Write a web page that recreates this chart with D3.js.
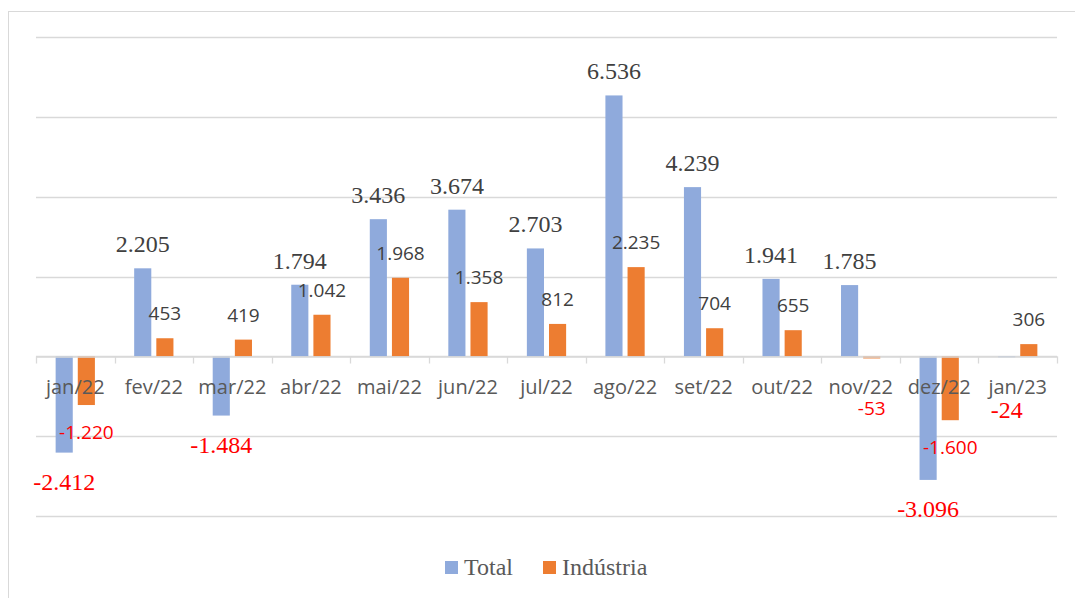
<!DOCTYPE html>
<html>
<head>
<meta charset="utf-8">
<script src="https://cdn.jsdelivr.net/npm/d3@7"></script>
<style>
  html, body { margin: 0; padding: 0; background: #fff; }
  svg { display: block; }
</style>
</head>
<body>
<svg id="chart" width="1075" height="598"></svg>
<script>
const categories = ["jan/22","fev/22","mar/22","abr/22","mai/22","jun/22","jul/22","ago/22","set/22","out/22","nov/22","dez/22","jan/23"];
const totalValues = [-2412, 2205, -1484, 1794, 3436, 3674, 2703, 6536, 4239, 1941, 1785, -3096, -24];
const industryValues = [-1220, 453, 419, 1042, 1968, 1358, 812, 2235, 704, 655, -53, -1600, 306];
const seriesNames = ["Total", "Indústria"];
const gridTicks = [-4000, -2000, 0, 2000, 4000, 6000, 8000];

const colors = { "Total": "#8FAADC", "Indústria": "#ED7D31" };
const SERIF = "'Liberation Serif', 'DejaVu Serif', serif";
const SANS = "'Open Sans', 'Noto Sans', sans-serif";

const svg = d3.select("#chart");
const W = 1075, H = 598;

svg.append("rect")
  .attr("x", 8.5).attr("y", 11.5)
  .attr("width", W + 20).attr("height", H + 20)
  .attr("fill", "none").attr("stroke", "#D9D9D9").attr("stroke-width", 1);

const plot = { left: 36, right: 1057, top: 37, bottom: 516 };

const x = d3.scaleBand().domain(categories).range([plot.left, plot.right]).padding(0);
const y = d3.scaleLinear().domain([-4000, 8000]).range([plot.bottom, plot.top]);

const bw = x.bandwidth();
const barW = bw * 0.218;
const gap = bw * 0.064;
const sub = d3.scaleOrdinal().domain(seriesNames).range([-gap / 2 - barW, gap / 2]);

svg.append("g")
  .selectAll("line")
  .data(gridTicks)
  .join("line")
  .attr("x1", plot.left).attr("x2", plot.right)
  .attr("y1", d => Math.round(y(d)) + 0.5).attr("y2", d => Math.round(y(d)) + 0.5)
  .attr("stroke", "#D9D9D9").attr("stroke-width", 1.3);

const data = categories.map((c, i) => ({ c, vals: [
  { s: "Total", v: totalValues[i] },
  { s: "Indústria", v: industryValues[i] }
]}));

const fmt = d3.formatLocale({ decimal: ",", thousands: ".", grouping: [3], currency: ["R$", ""], minus: "-" }).format(",d");

const groups = svg.append("g").selectAll("g").data(data).join("g")
  .attr("transform", d => `translate(${x(d.c) + bw / 2},0)`);

groups.selectAll("rect").data(d => d.vals).join("rect")
  .attr("x", d => sub(d.s))
  .attr("width", barW)
  .attr("y", d => y(Math.max(0, d.v)))
  .attr("height", d => Math.max(1, Math.abs(y(d.v) - y(0))))
  .attr("fill", d => colors[d.s]);

const y0 = Math.round(y(0)) + 0.5;
const axis = svg.append("g").attr("transform", `translate(0,${y0})`)
  .call(d3.axisBottom(x).tickSize(0).tickFormat(d => d));
axis.select(".domain").attr("stroke", "#D9D9D9").attr("stroke-width", 1.3);
axis.selectAll(".tick text")
  .attr("dy", 0).attr("y", 37)
  .style("font-family", SANS).style("font-size", "20px").attr("fill", "#595959");
const bounds = categories.map(c => x(c)).concat([plot.right]);
axis.append("g").selectAll("line").data(bounds).join("line")
  .attr("x1", d => Math.round(d) + 0.5).attr("x2", d => Math.round(d) + 0.5)
  .attr("y1", 0).attr("y2", 7)
  .attr("stroke", "#D9D9D9").attr("stroke-width", 1.3);

const lblLayer = svg.append("g").selectAll("g").data(data).join("g")
  .attr("transform", d => `translate(${x(d.c) + bw / 2},0)`);
lblLayer.selectAll("text").data(d => d.vals).join("text")
  .attr("x", d => sub(d.s) + barW / 2)
  .attr("y", d => {
    if (d.v >= 0) return y(d.v) - (d.s === "Total" ? 16 : 18);
    const end = y(d.v);
    const top = Math.max(end + 20, y(0) + 45);
    return top + (d.s === "Total" ? 17 : 14);
  })
  .attr("text-anchor", "middle")
  .style("font-family", d => d.s === "Total" ? SERIF : SANS)
  .style("font-size", d => d.s === "Total" ? "24px" : "19px")
  .attr("fill", d => d.v < 0 ? "#FF0000" : "#404040")
  .text(d => fmt(d.v));

const legend = svg.append("g");
const legendItems = [
  { s: "Total", x: 445 },
  { s: "Indústria", x: 543 }
];
legend.selectAll("rect").data(legendItems).join("rect")
  .attr("x", d => d.x).attr("y", 561).attr("width", 13).attr("height", 13)
  .attr("fill", d => colors[d.s]);
legend.selectAll("text").data(legendItems).join("text")
  .attr("x", d => d.x + 19).attr("y", 575)
  .style("font-family", SERIF).style("font-size", "24px").attr("fill", "#595959")
  .text(d => d.s);
</script>
</body>
</html>
